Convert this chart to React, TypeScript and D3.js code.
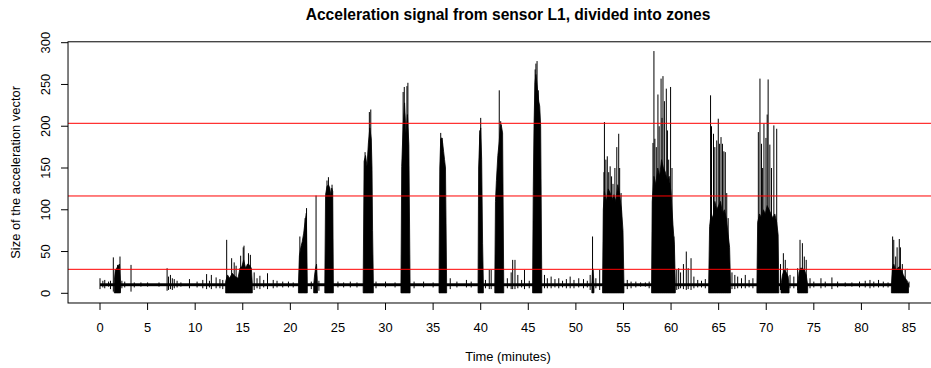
import React from "react";
import * as d3 from "d3";

// ---------------- data ----------------
const TITLE = "Acceleration signal from sensor L1, divided into zones";
const X_LABEL = "Time (minutes)";
const Y_LABEL = "Size of the acceleration vector";

const xTickValues = [0, 5, 10, 15, 20, 25, 30, 35, 40, 45, 50, 55, 60, 65, 70, 75, 80, 85];
const yTickValues = [0, 50, 100, 150, 200, 250, 300];

// zone boundaries (red horizontal lines)
const zoneLimits = [28.7, 116.5, 203.5];

// recorded time span and resting level of the signal
const signalSpan = [0, 85.0];
const restBand = [8.5, 12];

// dense bursts of activity: envelope times (minutes) and envelope tops
const burstTimes: number[][] = [
  [1.5, 1.6, 1.75, 1.9, 2.05, 2.15],
  [13.2, 13.4, 13.6, 13.9, 14.2, 14.5, 14.7, 14.9, 15.1, 15.3, 15.5, 15.7, 15.9, 16.0],
  [20.85, 20.95, 21.1, 21.25, 21.4, 21.55, 21.68, 21.78],
  [22.45, 22.55, 22.65, 22.75, 22.85],
  [23.62, 23.7, 23.85, 24.0, 24.15, 24.25, 24.35, 24.45, 24.52],
  [27.65, 27.75, 27.9, 28.05, 28.2, 28.35, 28.5, 28.58, 28.64, 28.72],
  [31.62, 31.7, 31.85, 32.0, 32.15, 32.3, 32.45, 32.58],
  [35.62, 35.7, 35.8, 35.9, 36.0, 36.1, 36.2, 36.3, 36.42],
  [39.72, 39.78, 39.9, 40.0, 40.1, 40.2, 40.28],
  [41.48, 41.55, 41.65, 41.8, 41.95, 42.05, 42.15, 42.3, 42.42],
  [45.45, 45.52, 45.6, 45.7, 45.8, 45.9, 46.0, 46.1, 46.2, 46.3, 46.42],
  [51.68, 51.75, 51.82, 51.9],
  [52.8, 52.88, 53.0, 53.2, 53.4, 53.6, 53.8, 54.0, 54.2, 54.4, 54.6, 54.8, 54.95, 55.05],
  [57.95, 58.02, 58.2, 58.4, 58.6, 58.8, 59.0, 59.2, 59.4, 59.6, 59.8, 60.0, 60.2, 60.35, 60.45],
  [63.95, 64.05, 64.2, 64.4, 64.6, 64.8, 65.0, 65.2, 65.4, 65.6, 65.8, 66.0, 66.15, 66.25],
  [69.02, 69.1, 69.3, 69.5, 69.7, 69.9, 70.1, 70.3, 70.5, 70.7, 70.9, 71.1, 71.25, 71.32],
  [71.55, 71.7, 71.9, 72.1, 72.3, 72.4],
  [73.3, 73.45, 73.6, 73.8, 74.0, 74.2, 74.35],
  [83.15, 83.25, 83.4, 83.6, 83.8, 84.0, 84.2, 84.4, 84.6, 84.8, 84.95],
];
const burstTops: number[][] = [
  [14, 28, 30, 33, 35, 14],
  [14, 22, 18, 24, 20, 18, 30, 32, 40, 30, 35, 34, 30, 12],
  [12, 45, 55, 62, 72, 86, 96, 12],
  [10, 22, 30, 35, 10],
  [10, 118, 128, 130, 126, 118, 126, 122, 10],
  [10, 158, 165, 152, 180, 198, 185, 150, 75, 12],
  [10, 152, 200, 228, 192, 214, 178, 10],
  [10, 150, 185, 186, 180, 170, 160, 150, 10],
  [10, 150, 188, 198, 160, 60, 10],
  [10, 110, 135, 165, 182, 198, 202, 192, 10],
  [10, 122, 200, 252, 262, 252, 240, 230, 224, 200, 10],
  [10, 30, 28, 10],
  [8, 100, 122, 110, 125, 120, 112, 118, 110, 130, 118, 100, 75, 10],
  [10, 110, 140, 130, 150, 140, 160, 150, 145, 135, 140, 120, 82, 58, 10],
  [10, 80, 95, 90, 110, 100, 105, 110, 95, 100, 90, 70, 55, 10],
  [10, 85, 95, 90, 100, 95, 105, 100, 95, 90, 95, 85, 70, 10],
  [10, 22, 28, 25, 20, 10],
  [10, 25, 30, 30, 28, 22, 10],
  [10, 30, 35, 28, 30, 32, 28, 22, 18, 15, 10],
];

// tall individual peaks inside / around the bursts
const spikeTimes = [
  1.4, 1.85, 2.1, 3.26,
  13.31, 13.83, 14.1, 14.3, 14.78, 15.05, 15.13, 15.6, 15.8,
  21.0, 21.55, 21.7, 22.7,
  23.85, 24.0, 24.38,
  27.85, 28.3, 28.45,
  31.85, 31.97, 32.25, 32.35,
  35.8, 35.95,
  39.9, 40.0,
  41.95, 42.1,
  45.72, 45.8, 45.92, 46.05,
  51.75,
  52.95, 53.0, 53.15, 53.3, 53.45, 53.6, 53.75, 53.9, 54.1, 54.3, 54.5, 54.6, 54.75,
  58.1, 58.2, 58.3, 58.45, 58.62, 58.75, 58.95, 59.05, 59.15, 59.3, 59.5, 59.62, 59.75, 59.95, 60.1, 60.3,
  64.15, 64.25, 64.46, 64.6, 64.8, 64.96, 65.1, 65.25, 65.4, 65.55, 65.7, 65.85, 66.0,
  69.17, 69.34, 69.5, 69.62, 69.76, 69.97, 70.1, 70.2, 70.38, 70.55, 70.8, 71.1,
  71.8, 73.55, 73.8, 74.0,
  83.28, 83.4, 83.6, 83.75, 83.98, 84.1, 84.3, 84.6,
];
const spikeValues = [
  43, 34, 44, 34,
  64, 42, 37, 33, 45, 55, 57, 48, 46,
  68, 90, 102, 117,
  135, 139, 130,
  169, 217, 220,
  241, 247, 248, 252,
  192, 186,
  195, 210,
  243, 206,
  268, 275, 278, 243,
  68,
  145, 205, 160, 164, 145, 152, 140, 131, 150, 175, 191, 150, 120,
  180, 290, 185, 175, 238, 200, 257, 210, 260, 230, 245, 195, 160, 247, 150, 68,
  237, 200, 191, 175, 183, 209, 179, 187, 179, 170, 169, 120, 90,
  193, 257, 179, 150, 203, 186, 214, 256, 178, 150, 201, 197,
  48, 64, 60, 44,
  68, 64, 44, 55, 65, 55, 35, 28,
];

// small fluctuations of the resting signal: time, low, high
const noiseTimes = [
  0.0, 0.3, 0.5, 0.9, 1.1, 2.3, 2.6, 3.6, 4.3, 5.0, 6.2, 7.05, 7.2, 7.4, 7.6, 7.8, 8.1, 8.5,
  9.4, 10.2, 10.8, 11.2, 11.5, 11.7, 12.2, 12.6, 12.9, 16.2, 16.5, 16.8, 17.2, 17.6, 18.2,
  18.6, 19.2, 19.8, 20.3, 22.2, 23.0, 25.0, 25.6, 26.3, 27.0, 29.0, 30.0, 31.0, 33.0, 34.0,
  35.0, 36.8, 37.5, 38.5, 39.0, 40.5, 40.9, 41.1, 42.8, 43.2, 43.36, 43.6, 43.9, 44.3, 44.6,
  45.1, 46.7, 47.0, 47.4, 47.8, 48.2, 48.6, 49.0, 49.4, 49.8, 50.3, 50.8, 51.2, 51.5, 52.1,
  52.5, 55.4, 55.8, 56.3, 56.8, 57.3, 57.7, 60.6, 60.8, 61.0, 61.3, 61.6, 61.8, 62.1, 62.4,
  62.8, 63.2, 63.6, 66.4, 66.7, 67.0, 67.4, 67.8, 68.2, 68.6, 71.5, 72.0, 72.2, 72.5, 72.9,
  73.3, 74.2, 74.6, 75.0, 75.75, 76.2, 76.9, 77.5, 78.3, 79.0, 79.8, 80.4, 80.9, 81.3, 81.8,
  82.3, 82.8, 85.0,
];
const noiseLows = [
  5, 7, 6, 8, 5, 6, 7, 7, 8, 8, 8, 3, 4, 5, 4, 6, 7, 8,
  6, 7, 6, 5, 7, 5, 6, 6, 5, 4, 6, 5, 7, 5, 6,
  7, 7, 7, 7, 5, 3, 7, 7, 7, 7, 6, 7, 7, 6, 7,
  7, 5, 7, 7, 7, 6, 5, 5, 6, 5, 5, 5, 6, 7, 5,
  6, 6, 6, 6, 7, 6, 7, 6, 6, 6, 7, 6, 7, 4, 6,
  4, 5, 6, 7, 8, 8, 6, 4, 5, 6, 5, 4, 5, 4, 6,
  7, 7, 6, 5, 5, 6, 6, 6, 7, 6, 4, 5, 5, 6, 6,
  4, 4, 6, 7, 6, 7, 5, 7, 8, 8, 7, 7, 6, 7, 7,
  7, 7, 7,
];
const noiseHighs = [
  18, 15, 16, 14, 15, 15, 14, 13, 13, 13, 13, 30, 20, 22, 18, 17, 15, 13,
  17, 14, 16, 23, 15, 22, 19, 17, 16, 25, 18, 21, 16, 24, 16,
  15, 14, 14, 13, 14, 15, 14, 13, 14, 13, 14, 14, 13, 14, 14,
  13, 18, 14, 16, 14, 16, 28, 28, 18, 25, 40, 40, 22, 16, 28,
  15, 22, 18, 20, 17, 18, 15, 17, 20, 16, 18, 17, 15, 22, 18,
  28, 16, 14, 14, 13, 13, 14, 28, 30, 25, 35, 50, 30, 42, 20,
  16, 15, 17, 25, 22, 20, 18, 22, 16, 18, 35, 40, 30, 22, 20,
  30, 40, 18, 14, 18, 14, 19, 14, 13, 13, 14, 15, 16, 14, 16,
  14, 13, 14,
];

// ---------------- layout ----------------
const W = 931;
const H = 368;
const FONT = "'Liberation Sans', Arial, Helvetica, sans-serif";

export default function App() {
  const x = d3.scaleLinear().domain([0, 85]).range([100, 909]);
  const y = d3.scaleLinear().domain([0, 300]).range([293.3, 42.7]);

  // plot frame (R style: data range plus 4%)
  const frameX0 = x(-3.36);
  const frameX1 = x(89.1);
  const frameY0 = y(301.1);
  const frameY1 = y(-11.6);

  const area = d3
    .area<[number, number]>()
    .x((d) => x(d[0]))
    .y0(() => y(0.5))
    .y1((d) => y(d[1]));

  const bursts = burstTimes.map((ts, i) =>
    ts.map((t, j) => [t, burstTops[i][j]] as [number, number])
  );

  return (
    <svg
      width={W}
      height={H}
      style={{ position: "absolute", left: 0, top: 0, background: "#fff" }}
      fontFamily={FONT}
    >
      <rect x={0} y={0} width={W} height={H} fill="#fff" />
      <text
        x={(frameX0 + frameX1) / 2}
        y={19.5}
        textAnchor="middle"
        fontWeight="bold"
        fontSize={15.6}
        fill="#000"
      >
        {TITLE}
      </text>

      <defs>
        <clipPath id="plotclip">
          <rect x={frameX0} y={frameY0} width={frameX1 - frameX0} height={frameY1 - frameY0} />
        </clipPath>
      </defs>

      <g clipPath="url(#plotclip)">
        <rect
          x={x(signalSpan[0])}
          width={x(signalSpan[1]) - x(signalSpan[0])}
          y={y(restBand[1])}
          height={y(restBand[0]) - y(restBand[1])}
          fill="#000"
        />
        {noiseTimes.map((t, i) => (
          <line
            key={"n" + i}
            x1={x(t)}
            x2={x(t)}
            y1={y(noiseLows[i])}
            y2={y(noiseHighs[i])}
            stroke="#000"
            strokeWidth={1}
          />
        ))}
        {bursts.map((b, i) => (
          <path key={"b" + i} d={area(b) || ""} fill="#000" stroke="#000" strokeWidth={0.8} />
        ))}
        {spikeTimes.map((t, i) => (
          <line
            key={"s" + i}
            x1={x(t)}
            x2={x(t)}
            y1={y(2)}
            y2={y(spikeValues[i])}
            stroke="#000"
            strokeWidth={1}
          />
        ))}
        {zoneLimits.map((v, i) => (
          <line
            key={"z" + i}
            x1={frameX0}
            x2={frameX1}
            y1={y(v)}
            y2={y(v)}
            stroke="#ff0000"
            strokeWidth={1}
          />
        ))}
      </g>

      <rect
        x={frameX0}
        y={frameY0}
        width={frameX1 - frameX0}
        height={frameY1 - frameY0}
        fill="none"
        stroke="#000"
        strokeWidth={1}
      />

      {xTickValues.map((v) => (
        <g key={"xt" + v}>
          <line x1={x(v)} x2={x(v)} y1={frameY1} y2={frameY1 + 7} stroke="#000" strokeWidth={1} />
          <text x={x(v)} y={331.5} textAnchor="middle" fontSize={12.9} fill="#000">
            {v}
          </text>
        </g>
      ))}
      <text x={(frameX0 + frameX1) / 2} y={360.5} textAnchor="middle" fontSize={12.9} fill="#000">
        {X_LABEL}
      </text>

      {yTickValues.map((v) => (
        <g key={"yt" + v}>
          <line x1={frameX0 - 7} x2={frameX0} y1={y(v)} y2={y(v)} stroke="#000" strokeWidth={1} />
          <text
            transform={`translate(${49.5},${y(v)}) rotate(-90)`}
            textAnchor="middle"
            fontSize={12.9}
            fill="#000"
          >
            {v}
          </text>
        </g>
      ))}
      <text
        transform={`translate(${19.5},${(frameY0 + frameY1) / 2}) rotate(-90)`}
        textAnchor="middle"
        fontSize={12.9}
        fill="#000"
      >
        {Y_LABEL}
      </text>
    </svg>
  );
}
